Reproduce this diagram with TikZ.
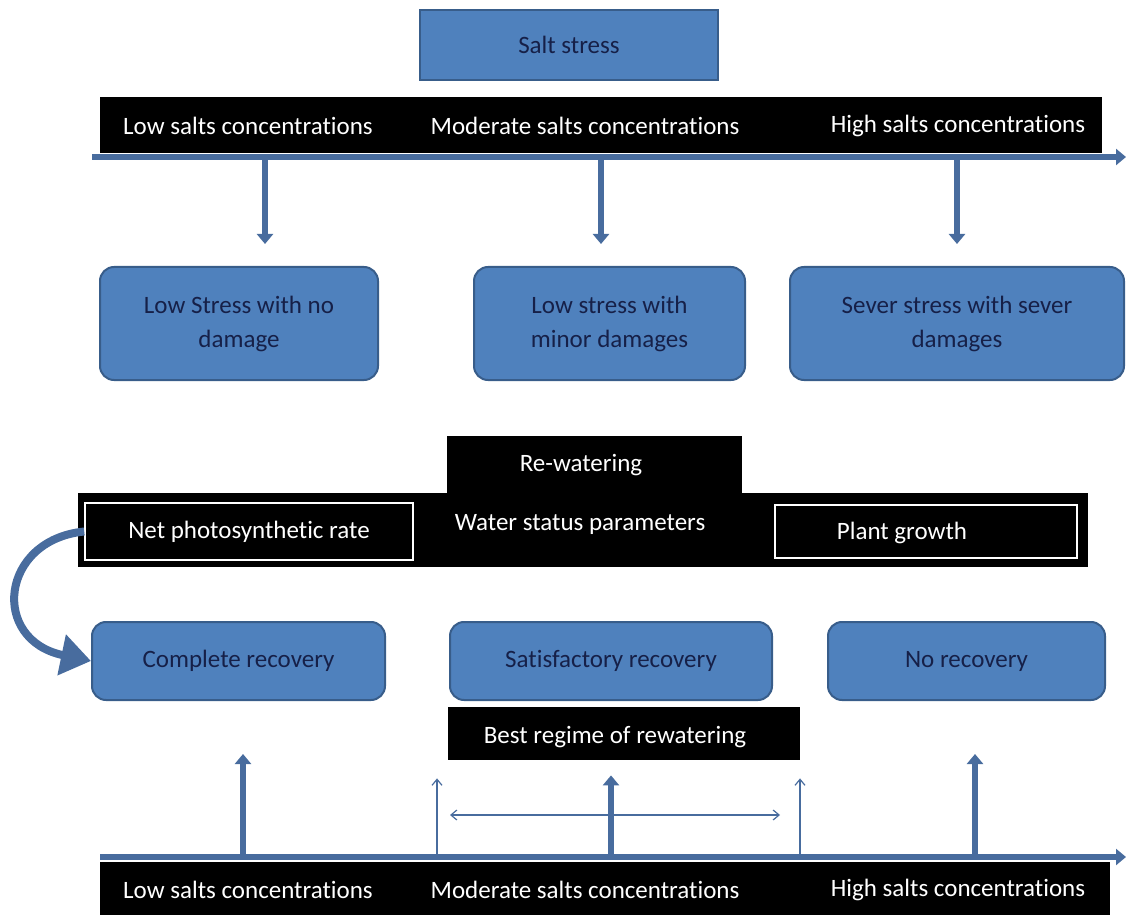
\documentclass[tikz,border=0pt]{standalone}
\usepackage{fontspec}
\setmainfont{Carlito}[Ligatures=NoCommon]
\usetikzlibrary{arrows.meta}
\definecolor{boxblue}{RGB}{79,129,189}
\definecolor{boxedge}{RGB}{56,93,138}
\definecolor{arrowblue}{RGB}{72,108,158}
\definecolor{textnavy}{RGB}{22,32,72}
\begin{document}
\begin{tikzpicture}[x=.5pt, y=-.5pt,
	bluebox/.style={draw=boxedge, fill=boxblue, line width=1pt, text=textnavy, align=center, inner sep=0pt, font=\fontsize{12.5}{17}\selectfont},
	roundbox/.style={bluebox, rounded corners=7pt},
	blackbox/.style={fill=black, inner sep=0pt},
	bartext/.style={text=white, inner sep=0pt, font=\fontsize{12.5}{15}\selectfont},
	axisline/.style={draw=arrowblue, line width=3pt, -{Triangle[length=5pt, width=8pt]}},
	fatarrow/.style={draw=arrowblue, line width=3pt, -{Triangle[length=5pt, width=8pt]}},
	thinarrow/.style={draw=arrowblue, line width=.6pt, -{Straight Barb[length=3pt, width=5pt]}}]
	\useasboundingbox (0,0) rectangle (1126,915);
	\node[bluebox, minimum width=149pt, minimum height=35pt] (salt) at (569,45) {Salt stress};
	\node[blackbox, minimum width=501pt, minimum height=28pt] (topbar) at (601,125) {};
	\node foreach \n/\x/\t in {low/248/Low, mod/585/Moderate, high/958/High} [bartext] (top\n) at (\x,126) {\t\ salts concentrations};
	\coordinate (topstart) at (92,157);
	\coordinate (topend) at (1126,157);
	\draw[axisline] (topstart) -- (topend);
	\node[roundbox, minimum width=139pt, minimum height=56.5pt] (stress1) at (239,323.5) {Low Stress with no\\damage};
	\node[roundbox, minimum width=135.5pt, minimum height=56.5pt] (stress2) at (609.5,323.5) {Low stress with\\minor damages};
	\node[roundbox, minimum width=167pt, minimum height=56.5pt] (stress3) at (957,323.5) {Sever stress with sever\\damages};
	\foreach \i/\x in {1/265, 2/601, 3/957} {
		\coordinate (down\i) at (\x,157);
		\draw[fatarrow] (down\i) -- ([yshift=11pt]down\i |- stress\i.north);
	}
	\node[blackbox, minimum width=147.5pt, minimum height=30pt] (rewater) at (594.5,466) {};
	\node[bartext] (rewatertext) at (581,465) {Re-watering};
	\node[blackbox, minimum width=505pt, minimum height=37pt] (params) at (583,530) {};
	\node[blackbox, draw=white, line width=.8pt, minimum width=164pt, minimum height=28.5pt] (netrate) at (249,531.5) {};
	\node[bartext] at (netrate) {Net photosynthetic rate};
	\node[bartext] (water) at (580,524) {Water status parameters};
	\node[blackbox, draw=white, line width=.8pt, minimum width=151pt, minimum height=26.5pt] (growth) at (926,531.5) {};
	\node[bartext] at (902,533) {Plant growth};
	\node[roundbox, minimum width=146.5pt, minimum height=39pt] (complete) at (238.5,661) {Complete recovery};
	\node[roundbox, minimum width=161pt, minimum height=39pt] (satis) at (611,661) {Satisfactory recovery};
	\node[roundbox, minimum width=138.5pt, minimum height=39pt] (norec) at (966.5,661) {No recovery};
	\draw[arrowblue, line width=4pt, -{Triangle[length=15pt, width=20pt]}] (netrate.west) .. controls (0,540) and (-10,640) .. (complete.west);
	\node[blackbox, minimum width=176pt, minimum height=26.5pt] (best) at (624,733.5) {};
	\node[bartext] at (615,737) {Best regime of rewatering};
	\node[blackbox, minimum width=505pt, minimum height=28pt] (botbar) at (605,890) {};
	\node foreach \n/\x/\t in {low/248/Low, mod/585/Moderate, high/958/High} [bartext] (bot\n) at (\x,890) {\t\ salts concentrations};
	\coordinate (botstart) at (100,857);
	\coordinate (botend) at (1126,857);
	\draw[axisline] (botstart) -- (botend);
	\coordinate (up1) at (243,856);
	\coordinate (up2) at (611,856);
	\coordinate (up3) at (975,856);
	\draw[fatarrow] (up1) -- ([yshift=-26.5pt]up1 |- complete.south);
	\draw[fatarrow] (up2) -- ([yshift=-7.5pt]up2 |- best.south);
	\draw[fatarrow] (up3) -- ([yshift=-26.5pt]up3 |- norec.south);
	\coordinate (thinleft) at (437,856);
	\coordinate (thinright) at (800,856);
	\draw[thinarrow] (thinleft) -- ([yshift=-9pt]thinleft |- best.south);
	\draw[thinarrow] (thinright) -- ([yshift=-9pt]thinright |- best.south);
	\coordinate (rangeleft) at (450,815);
	\coordinate (rangeright) at (780,815);
	\draw[thinarrow, {Straight Barb[length=3pt, width=5pt]}-{Straight Barb[length=3pt, width=5pt]}] (rangeleft) -- (rangeright);
\end{tikzpicture}
\end{document}
